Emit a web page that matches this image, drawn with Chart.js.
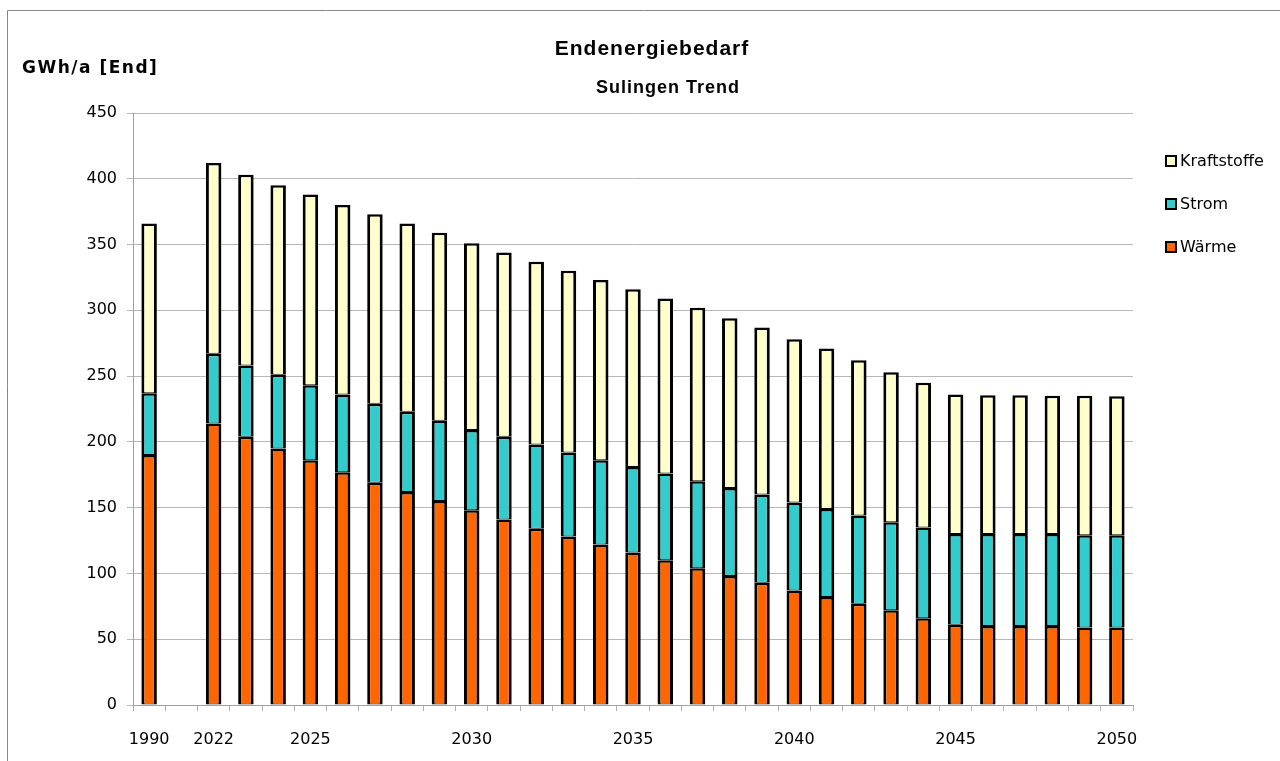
<!DOCTYPE html>
<html>
<head>
<meta charset="utf-8">
<script src="https://cdn.jsdelivr.net/npm/chart.js"></script>
<style>
  html, body { margin: 0; padding: 0; background: #fff; }
  #wrap { width: 1280px; height: 761px; }
</style>
</head>
<body>
<div id="wrap"><canvas id="grafico" width="1280" height="761"></canvas></div>
<script>
// Jahre (leerer Platz zwischen 1990 und 2022)
const jahre = ['1990', '', '2022', '2023', '2024', '2025', '2026', '2027', '2028', '2029', '2030',
  '2031', '2032', '2033', '2034', '2035', '2036', '2037', '2038', '2039', '2040',
  '2041', '2042', '2043', '2044', '2045', '2046', '2047', '2048', '2049', '2050'];
const beschriftet = ['1990', '2022', '2025', '2030', '2035', '2040', '2045', '2050'];

// GWh/a je Sektor
const waerme = [190, null, 214, 204, 195, 186, 177, 169, 162, 155, 148, 141, 134, 128, 122, 116, 110, 104, 98, 93, 87, 82, 77, 72, 66, 61, 60, 60, 60, 59, 59];
const strom = [47, null, 53, 54, 56, 57, 59, 60, 61, 61, 61, 63, 64, 64, 64, 65, 66, 66, 67, 67, 67, 67, 67, 67, 69, 69, 70, 70, 70, 70, 70];
const kraftstoffe = [129, null, 145, 145, 144, 145, 144, 144, 143, 143, 142, 140, 139, 138, 137, 135, 133, 132, 129, 127, 124, 122, 118, 114, 110, 106, 105.5, 105.5, 105, 106, 105.6];

const titel = 'Endenergiebedarf';
const untertitel = 'Sulingen Trend';
const einheit = 'GWh/a [End]';

// Rahmen, Titel und Legende selbst zeichnen
const extras = {
  id: 'extras',
  afterDraw(c) {
    const ctx = c.ctx;
    ctx.save();
    ctx.strokeStyle = '#888';
    ctx.lineWidth = 1;
    ctx.beginPath();
    ctx.moveTo(7.5, 761);
    ctx.lineTo(7.5, 10.5);
    ctx.lineTo(1280, 10.5);
    ctx.stroke();

    ctx.fillStyle = '#000';
    ctx.textBaseline = 'alphabetic';
    ctx.textAlign = 'center';
    ctx.font = 'bold 21px "Liberation Sans", Arial, sans-serif';
    ctx.letterSpacing = '1px';
    ctx.fillText(titel, 652, 55);
    ctx.font = 'bold 18px "Liberation Sans", Arial, sans-serif';
    ctx.letterSpacing = '1px';
    ctx.fillText(untertitel, 668, 93);

    ctx.textAlign = 'left';
    ctx.font = 'bold 17px "DejaVu Sans", Verdana, sans-serif';
    ctx.letterSpacing = '1.5px';
    ctx.fillText(einheit, 22, 73);

    // Legende (umgekehrte Reihenfolge)
    ctx.letterSpacing = '0px';
    ctx.font = '16px "DejaVu Sans", Verdana, sans-serif';
    ctx.textBaseline = 'middle';
    const ds = c.data.datasets.slice().reverse();
    ds.forEach((d, i) => {
      const y = 161 + i * 43;
      ctx.fillStyle = d.backgroundColor;
      ctx.fillRect(1166, y - 5, 10, 10);
      ctx.strokeStyle = '#000';
      ctx.lineWidth = 2;
      ctx.strokeRect(1166, y - 5, 10, 10);
      ctx.fillStyle = '#000';
      ctx.fillText(d.label, 1180, y + 1);
    });
    ctx.restore();
  }
};

const ctx = document.getElementById('grafico').getContext('2d');
new Chart(ctx, {
  type: 'bar',
  data: {
    labels: jahre,
    datasets: [
      { label: 'Wärme', data: waerme, backgroundColor: '#FF6600' },
      { label: 'Strom', data: strom, backgroundColor: '#33CCCC' },
      { label: 'Kraftstoffe', data: kraftstoffe, backgroundColor: '#FFFFCC' }
    ]
  },
  options: {
    responsive: false,
    animation: false,
    layout: { padding: { top: 113, right: 147, left: 0, bottom: 0 } },
    datasets: {
      bar: {
        borderColor: '#000',
        borderWidth: { top: 2.5, bottom: 1, left: 3, right: 3 },
        borderSkipped: false,
        categoryPercentage: 1,
        barPercentage: 0.48
      }
    },
    plugins: {
      legend: { display: false },
      title: { display: false },
      tooltip: { enabled: false }
    },
    scales: {
      x: {
        stacked: true,
        afterFit(s) { s.height = 56; },
        grid: { drawOnChartArea: false, drawTicks: true, tickLength: 6, color: '#b0b0b0' },
        border: { color: '#a0a0a0' },
        ticks: {
          autoSkip: false,
          maxRotation: 0,
          padding: 19,
          color: '#000',
          font: { family: '"DejaVu Sans", Verdana, sans-serif', size: 16 },
          callback(v) {
            const j = this.getLabelForValue(v);
            return beschriftet.includes(j) ? j : '';
          }
        }
      },
      y: {
        stacked: true,
        min: 0,
        max: 450,
        afterFit(s) { s.width = 133; },
        grid: { color: '#b8b8b8', tickLength: 6 },
        border: { color: '#a0a0a0' },
        ticks: {
          stepSize: 50,
          padding: 10,
          color: '#000',
          font: { family: '"DejaVu Sans", Verdana, sans-serif', size: 16 }
        }
      }
    }
  },
  plugins: [extras]
});
</script>
</body>
</html>
